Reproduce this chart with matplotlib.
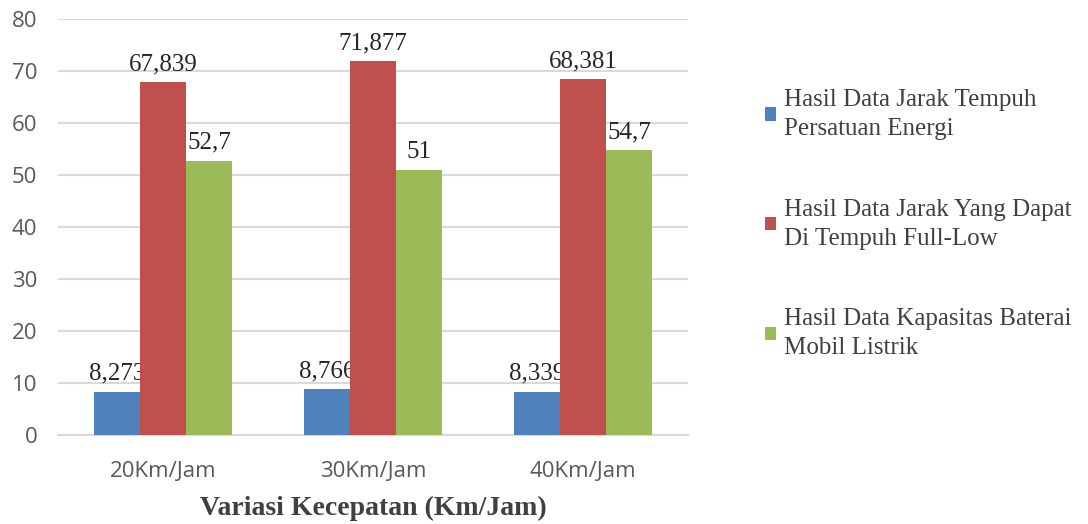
import matplotlib.pyplot as plt
import numpy as np

categories = ["20Km/Jam", "30Km/Jam", "40Km/Jam"]
series_names = ["Hasil Data Jarak Tempuh\nPersatuan Energi",
                "Hasil Data Jarak Yang Dapat\nDi Tempuh Full-Low",
                "Hasil Data Kapasitas Baterai\nMobil Listrik"]
jarak_per_energi = [8.273, 8.766, 8.339]
jarak_full_low = [67.839, 71.877, 68.381]
kapasitas_baterai = [52.7, 51, 54.7]
value_labels = [["8,273", "8,766", "8,339"],
                ["67,839", "71,877", "68,381"],
                ["52,7", "51", "54,7"]]
colors = ["#4F81BD", "#C0504D", "#9BBB59"]

fig = plt.figure(figsize=(10.88, 5.24), dpi=100)
ax = fig.add_axes([0.0533, 0.170, 0.579, 0.794])

x = np.arange(len(categories))
w = 0.22
for i, vals in enumerate([jarak_per_energi, jarak_full_low, kapasitas_baterai]):
    bars = ax.bar(x + (i - 1) * w, vals, w, color=colors[i], label=series_names[i], zorder=3)
    ax.bar_label(bars, labels=value_labels[i], padding=5, fontsize=18,
                 family="Liberation Serif", color="#262626")

ax.set_xlim(-0.5, 2.5)
ax.set_ylim(0, 80)
ax.set_yticks(range(0, 81, 10))
ax.grid(axis="y", color="#D9D9D9", lw=1.5, zorder=0)
for s in ["top", "right", "left"]:
    ax.spines[s].set_visible(False)
ax.spines["bottom"].set_color("#D9D9D9")
ax.spines["bottom"].set_linewidth(1.5)
ax.set_xticks(x)
ax.set_xticklabels(categories)
ax.tick_params(length=0, labelsize=16, labelcolor="#595959")
ax.tick_params(axis="y", pad=15)
ax.tick_params(axis="x", pad=19)
for t in ax.get_xticklabels() + ax.get_yticklabels():
    t.set_family("Open Sans")

ax.set_xlabel("Variasi Kecepatan (Km/Jam)", fontsize=20, fontweight="bold",
              family="Liberation Serif", color="#404040", labelpad=10)

leg = ax.legend(loc="upper left", bbox_to_anchor=(1.087, 0.885), frameon=False,
                prop={"family": "Liberation Serif", "size": 18},
                handlelength=0.45, handleheight=0.45, handletextpad=0.3,
                labelspacing=2.35, labelcolor="#404040")
for t in leg.get_texts():
    t.set_linespacing(1.4)

plt.savefig("out.png")
